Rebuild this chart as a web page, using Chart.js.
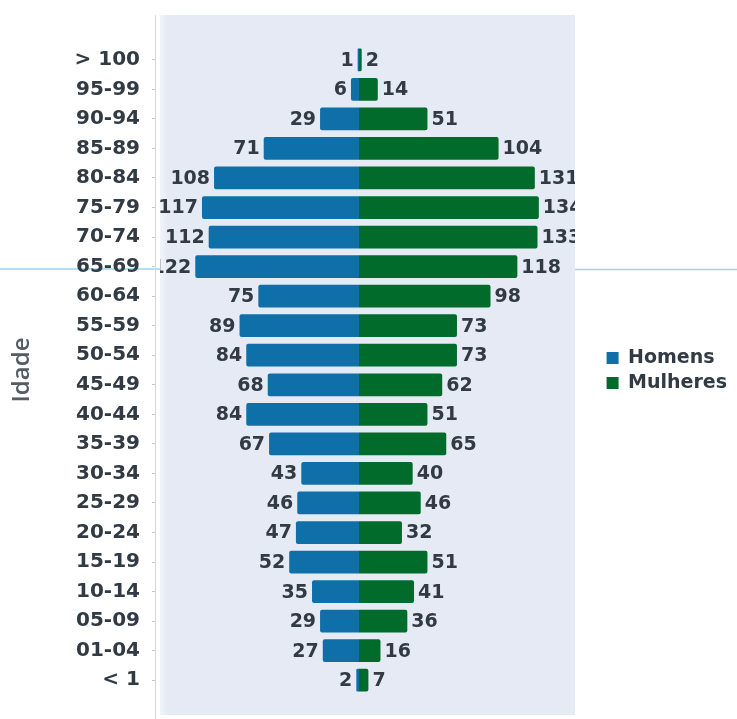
<!DOCTYPE html>
<html>
<head>
<meta charset="utf-8">
<script src="https://cdn.jsdelivr.net/npm/chart.js@4/dist/chart.umd.min.js"></script>
<style>
  html, body { margin:0; padding:0; background:#fff; }
</style>
</head>
<body>
<canvas id="piramide" width="737" height="719"></canvas>
<script>
// ---- dados ----
const faixas = ['> 100','95-99','90-94','85-89','80-84','75-79','70-74','65-69','60-64','55-59','50-54',
                '45-49','40-44','35-39','30-34','25-29','20-24','15-19','10-14','05-09','01-04','< 1'];
const homens   = [1,6,29,71,108,117,112,122,75,89,84,68,84,67,43,46,47,52,35,29,27,2];
const mulheres = [2,14,51,104,131,134,133,118,98,73,73,62,51,65,40,46,32,51,41,36,16,7];

const corHomens = '#0f6fa9';
const corMulheres = '#006b2b';
const corTexto = '#323a44';

// ---- fundo do painel, linha do eixo ----
const fundoPlugin = {
  id: 'fundo',
  beforeDraw(chart) {
    const {ctx, chartArea} = chart;
    const x0 = chartArea.left + 5, x1 = 575;
    ctx.save();
    // linha clara atravessando a imagem (fora do painel)
    ctx.strokeStyle = 'rgba(140,210,236,0.9)';
    ctx.lineWidth = 1.5;
    ctx.beginPath();
    ctx.moveTo(0, 269); ctx.lineTo(x0, 269);
    ctx.moveTo(x1, 269.5); ctx.lineTo(737, 269.5);
    ctx.stroke();

    const g = ctx.createLinearGradient(x0, 0, x0 + 8, 0);
    g.addColorStop(0, '#f1f4fa');
    g.addColorStop(1, '#e5eaf4');
    ctx.fillStyle = g;
    ctx.fillRect(x0, 15, x1 - x0, 700);
    ctx.strokeStyle = '#d6d9de';
    ctx.lineWidth = 1;
    ctx.beginPath();
    ctx.moveTo(chartArea.left + 0.5, 15);
    ctx.lineTo(chartArea.left + 0.5, 719);
    ctx.stroke();
    ctx.restore();
  }
};

// ---- rótulos dos valores ----
const rotulosPlugin = {
  id: 'rotulos',
  afterDatasetsDraw(chart) {
    const {ctx, chartArea} = chart;
    ctx.save();
    ctx.beginPath();
    ctx.rect(chartArea.left + 5, 0, 575 - chartArea.left - 5, 719);
    ctx.clip();
    ctx.font = 'bold 19px "DejaVu Sans"';
    ctx.fillStyle = corTexto;
    ctx.textBaseline = 'middle';
    chart.data.datasets.forEach((ds, i) => {
      const meta = chart.getDatasetMeta(i);
      meta.data.forEach((bar, j) => {
        const v = Math.abs(ds.data[j]);
        if (ds.data[j] < 0) {
          ctx.textAlign = 'right';
          ctx.fillText(v, bar.x - 4, bar.y + 1);
        } else {
          ctx.textAlign = 'left';
          ctx.fillText(v, bar.x + 4, bar.y + 1);
        }
      });
    });
    ctx.restore();
  }
};

new Chart(document.getElementById('piramide'), {
  type: 'bar',
  data: {
    labels: faixas,
    datasets: [
      { label: 'Homens', data: homens.map(v => -v), backgroundColor: corHomens,
        barPercentage: 0.77, categoryPercentage: 1, borderRadius: 2 },
      { label: 'Mulheres', data: mulheres, backgroundColor: corMulheres,
        barPercentage: 0.77, categoryPercentage: 1, borderRadius: 2 }
    ]
  },
  options: {
    indexAxis: 'y',
    responsive: false,
    animation: false,
    devicePixelRatio: 1,
    layout: { padding: { top: 45, bottom: 23, left: 0, right: 0 } },
    plugins: {
      legend: {
        position: 'right',
        labels: {
          boxWidth: 12, boxHeight: 12, padding: 6,
          color: corTexto,
          font: { family: 'DejaVu Sans', weight: 'bold', size: 19 }
        }
      },
      tooltip: { enabled: false }
    },
    scales: {
      x: {
        display: false,
        stacked: true,
        min: -152, max: 180
      },
      y: {
        stacked: true,
        afterFit: s => { s.width = 155; },
        border: { display: false },
        grid: { drawOnChartArea: false, offset: false, tickLength: 3, color: '#c4c8ce' },
        ticks: {
          color: corTexto, padding: 12,
          font: { family: 'DejaVu Sans', weight: 'bold', size: 20 }
        },
        title: {
          display: true, text: 'Idade', color: '#555b63',
          font: { family: 'Open Sans', weight: '600', size: 24 },
          padding: { top: 8, bottom: 0 }
        }
      }
    }
  },
  plugins: [fundoPlugin, rotulosPlugin]
});
</script>
</body>
</html>
